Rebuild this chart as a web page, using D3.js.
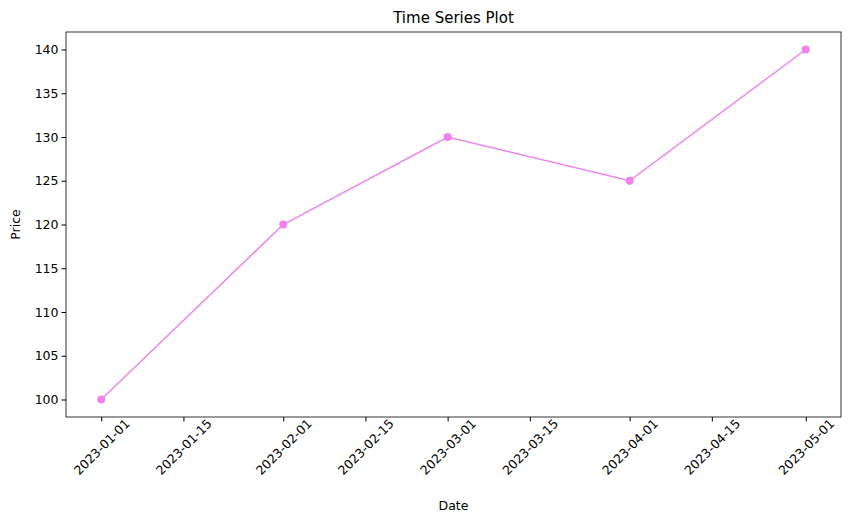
<!DOCTYPE html>
<html lang="en">
<head>
<meta charset="UTF-8">
<script src="https://d3js.org/d3.v7.min.js"></script>
<style>
  body { margin: 0; background: #fff; }
  text { font-family: "DejaVu Sans", sans-serif; }
</style>
</head>
<body>
<div id="chart"></div>
<script>
const dates = ["2023-01-01", "2023-02-01", "2023-03-01", "2023-04-01", "2023-05-01"];
const prices = [100, 120, 130, 125, 140];
const tickDates = ["2023-01-01", "2023-01-15", "2023-02-01", "2023-02-15", "2023-03-01",
                   "2023-03-15", "2023-04-01", "2023-04-15", "2023-05-01"];
const yTicks = [100, 105, 110, 115, 120, 125, 130, 135, 140];

const width = 850, height = 523;
const m = { left: 66, right: 9, top: 32, bottom: 106 };
const parse = d3.utcParse("%Y-%m-%d");
const data = dates.map((d, i) => ({ date: parse(d), price: prices[i] }));

const t0 = parse(dates[0]), t1 = parse(dates[dates.length - 1]);
const pad = (t1 - t0) * 0.05;
const x = d3.scaleUtc()
    .domain([new Date(+t0 - pad), new Date(+t1 + pad)])
    .range([m.left, width - m.right]);
const y = d3.scaleLinear()
    .domain([98, 142])
    .range([height - m.bottom, m.top]);

const svg = d3.select("#chart").append("svg")
    .attr("width", width)
    .attr("height", height);

// axes
const xAxis = svg.append("g")
    .attr("transform", "translate(0," + (height - m.bottom) + ")")
    .call(d3.axisBottom(x).tickValues(tickDates.map(parse))
        .tickFormat(d3.utcFormat("%Y-%m-%d")).tickSizeOuter(0).tickSize(4.5));
xAxis.selectAll("text")
    .attr("font-size", 12.5).attr("fill", "#000")
    .attr("text-anchor", "middle")
    .attr("y", 0).attr("dy", "0.35em")
    .attr("transform", "translate(0,30) rotate(-45)");

const yAxis = svg.append("g")
    .attr("transform", "translate(" + m.left + ",0)")
    .call(d3.axisLeft(y).tickValues(yTicks).tickSizeOuter(0).tickSize(4.5));
yAxis.selectAll("text").attr("font-size", 12.5).attr("fill", "#000");

svg.selectAll(".domain").remove();
svg.append("rect")
    .attr("x", m.left).attr("y", m.top)
    .attr("width", width - m.left - m.right)
    .attr("height", height - m.top - m.bottom)
    .attr("fill", "none").attr("stroke", "#000").attr("stroke-width", 0.8);

// line + points
svg.append("path")
    .datum(data)
    .attr("fill", "none")
    .attr("stroke", "violet")
    .attr("stroke-width", 1.5)
    .attr("d", d3.line().x(d => x(d.date)).y(d => y(d.price)));

svg.selectAll("circle")
    .data(data)
    .enter()
    .append("circle")
    .attr("cx", d => x(d.date))
    .attr("cy", d => y(d.price))
    .attr("r", 4)
    .attr("fill", "violet");

// titles
svg.append("text")
    .attr("x", (m.left + width - m.right) / 2).attr("y", 23)
    .attr("text-anchor", "middle").attr("font-size", 15)
    .text("Time Series Plot");
svg.append("text")
    .attr("x", (m.left + width - m.right) / 2).attr("y", 510)
    .attr("text-anchor", "middle").attr("font-size", 12.5)
    .text("Date");
svg.append("text")
    .attr("transform", "translate(20," + ((m.top + height - m.bottom) / 2) + ") rotate(-90)")
    .attr("text-anchor", "middle").attr("font-size", 12.5)
    .text("Price");
</script>
</body>
</html>
